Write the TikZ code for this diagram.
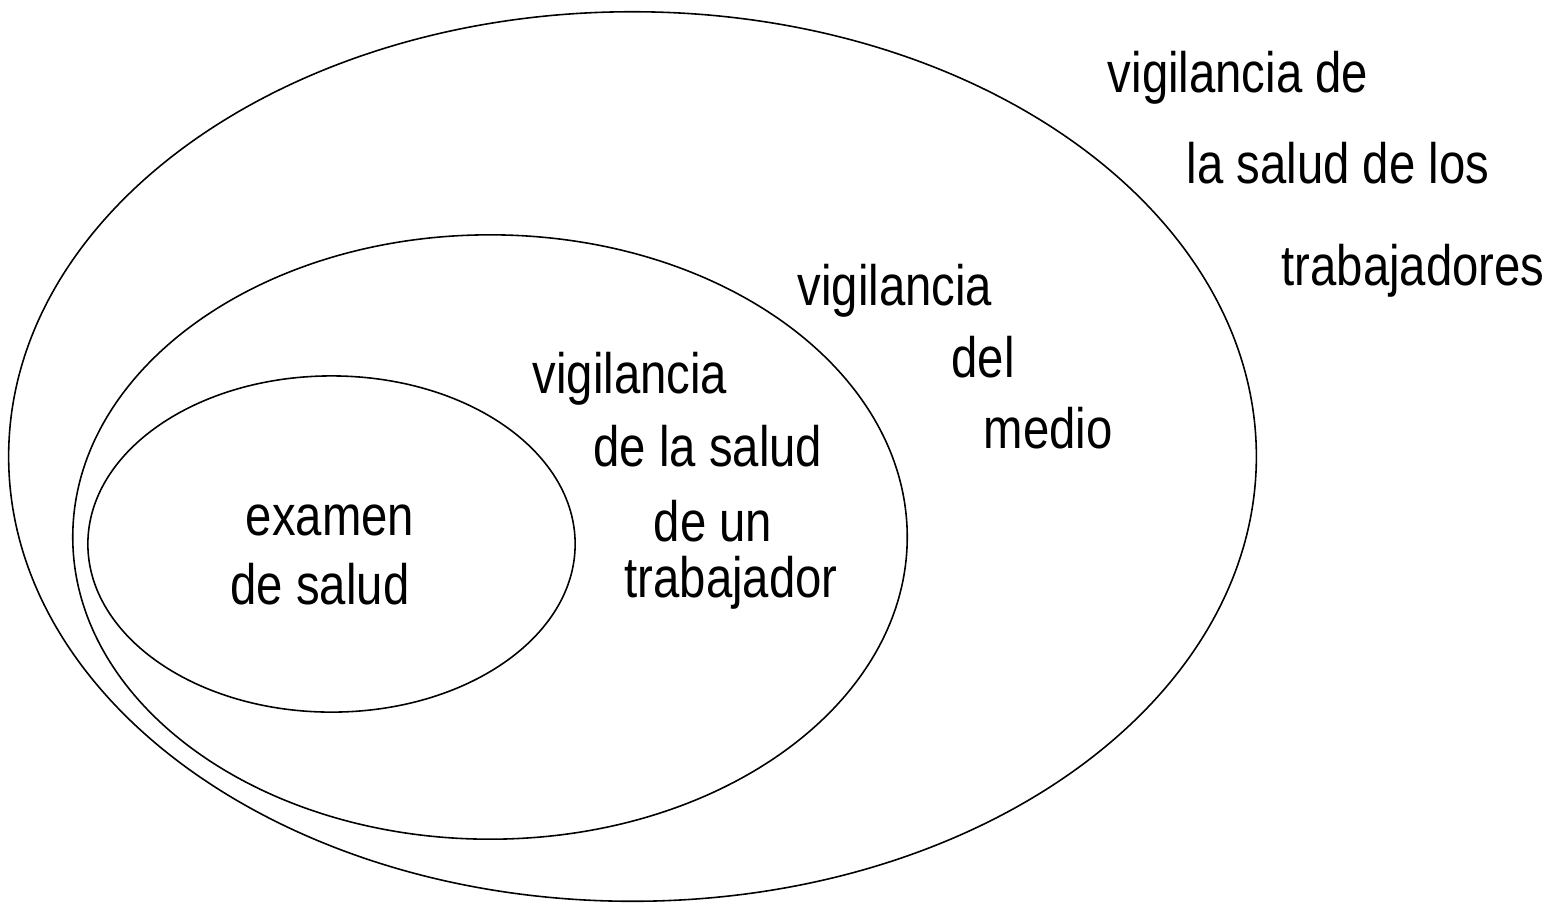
\documentclass[tikz,border=0pt]{standalone}
\usepackage{fontspec}
\setmainfont{Liberation Sans}[FakeStretch=0.83]
\usetikzlibrary{shapes.geometric}
\begin{document}
\begin{tikzpicture}
[x=0.01cm,y=-0.01cm,
  ringdecorate/.style={shape=ellipse,draw,line width=0.45pt,inner sep=0pt},%
  textdecorate/.style={anchor=base,inner sep=0pt,font=\fontsize{16.2pt}{19pt}\selectfont}]
\useasboundingbox (0,0) rectangle (1552,902);
%% nested ellipses
\foreach \nodename/\x/\y/\w/\h in {outer/632.5/456.5/12.47/8.89, middle/490/537/8.34/6.04, inner/331.5/544/4.87/3.36} {
  \node (\nodename) at (\x,\y) [ringdecorate,minimum width=\w cm,minimum height=\h cm] {};
}
%% labels
\foreach \nodename/\x/\y/\label in {%
  trabajadoresA/1238/92/vigilancia de,
  trabajadoresB/1338/183/la salud de los,
  trabajadoresC/1413/285/trabajadores,
  medioA/895/305/vigilancia,
  medioB/983/377/del,
  medioC/1048/448/medio,
  trabajadorA/630/393/vigilancia,
  trabajadorB/708/466/de la salud,
  trabajadorC/713/541/de un,
  trabajadorD/731/597/trabajador,
  examenA/330/535/examen,
  examenB/320/604/de salud} {
  \node (\nodename) at (\x,\y) [textdecorate] {\label};
}
\end{tikzpicture}
\end{document}
